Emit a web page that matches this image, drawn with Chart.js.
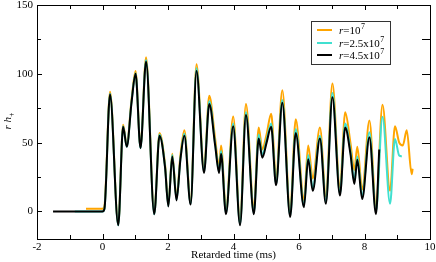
<!DOCTYPE html>
<html><head><meta charset="utf-8">
<script src="https://cdn.jsdelivr.net/npm/chart.js@4/dist/chart.umd.min.js"></script>
<style>html,body{margin:0;padding:0;background:#fff}#wrap{width:436px;height:262px}</style>
</head><body><div id="wrap"><canvas id="c" width="436" height="262"></canvas></div>
<script>
// ---- data (retarded time in ms, r*h_plus) ----
const blackT = [-1.51, 0, 0.06, 0.23, 0.48, 0.63, 0.74, 0.89, 1.01, 1.16, 1.33, 1.58, 1.74, 1.91, 2.01, 2.13, 2.26, 2.38, 2.50, 2.69, 2.87, 3.10, 3.26, 3.44, 3.56, 3.62, 3.77, 3.99, 4.20, 4.38, 4.62, 4.77, 4.88, 5.01, 5.15, 5.30, 5.49, 5.73, 5.90, 6.15, 6.28, 6.42, 6.64, 6.82, 7.02, 7.25, 7.41, 7.57, 7.69, 7.78, 7.93, 8.15, 8.35, 8.45];
const blackY = [0, 0, 2, 85, -10, 61.6, 47, 80, 100, 46, 109, -2, 55, 32, 3.6, 40, 8, 38, 55, 5, 102, 28, 78, 48, 28, 42, -2, 62, -10, 70, -2, 53, 39, 50, 61.6, 19, 79, -4, 57, 3, 38, 15, 53, 5.6, 83, 11.6, 61, 42, 20, 37.5, 9, 54, -2, 45];

const cyanT = [-0.845, 0, 0.06, 0.23, 0.48, 0.63, 0.74, 0.89, 1.01, 1.16, 1.33, 1.58, 1.74, 1.91, 2.01, 2.13, 2.26, 2.38, 2.50, 2.69, 2.87, 3.10, 3.26, 3.44, 3.56, 3.62, 3.77, 3.99, 4.20, 4.38, 4.62, 4.77, 4.88, 5.01, 5.15, 5.30, 5.49, 5.73, 5.90, 6.15, 6.28, 6.42, 6.64, 6.82, 7.02, 7.25, 7.41, 7.57, 7.69, 7.78, 7.93, 8.15, 8.35, 8.55, 8.78, 8.93, 9.06, 9.14];
const cyanY = [0, 0, 2, 85.5, -10, 62, 47, 80.5, 100.5, 46, 110, -2, 56, 32.5, 4, 41, 8.5, 38.5, 56.5, 5.5, 104, 29, 80, 49, 29, 44, -1, 64, -9, 72, -1, 56, 41, 52, 64, 20, 81, -3, 60, 4, 41, 17, 55, 7, 86, 13, 64, 44, 22, 40, 11, 57.5, 0, 68.8, 5.6, 52.7, 40.6, 40];

const orangeT = [-0.504, 0, 0.06, 0.23, 0.48, 0.63, 0.74, 0.89, 1.01, 1.16, 1.33, 1.58, 1.74, 1.91, 2.01, 2.13, 2.26, 2.38, 2.50, 2.69, 2.87, 3.10, 3.26, 3.44, 3.56, 3.62, 3.77, 3.99, 4.20, 4.38, 4.62, 4.77, 4.88, 5.01, 5.15, 5.30, 5.49, 5.73, 5.90, 6.15, 6.28, 6.42, 6.64, 6.82, 7.02, 7.25, 7.41, 7.57, 7.69, 7.78, 7.93, 8.15, 8.35, 8.55, 8.78, 8.93, 9.06, 9.17, 9.29, 9.44, 9.47];
const orangeY = [2, 2, 4, 87, -9, 63, 48, 82, 102, 47, 112, -1, 57, 34, 5, 42, 10, 41, 59, 7, 107, 31, 84, 53, 32, 48, 1, 69, -7, 78, 2, 61, 45, 56, 71, 24, 88, 0, 67, 8, 48, 24, 61, 11, 93, 17, 72, 50, 30, 47, 16, 66, 4, 77.5, 15, 62, 50, 48, 59, 27, 31];

const seriesNames = ['r=10^7', 'r=2.5x10^7', 'r=4.5x10^7'];
const seriesMantissa = ['10', '2.5x10', '4.5x10'];
const seriesColors = ['#FFA500', '#40E0D0', '#000000'];

const xMajorTicks = [-2, 0, 2, 4, 6, 8, 10];
const xMinorTicks = [-1, 1, 3, 5, 7, 9];
const yMajorTicks = [0, 50, 100, 150];
const yMinorTicks = [25, 75, 125];

const SERIF = '"Liberation Serif", "Times New Roman", serif';

function pts(t, y) { return t.map((v, i) => ({ x: v, y: y[i] })); }

const framePlugin = {
  id: 'frame',
  afterDraw(chart) {
    const ctx = chart.ctx, a = chart.chartArea;
    const xs = chart.scales.x, ys = chart.scales.y;
    ctx.save();
    ctx.strokeStyle = '#000';
    ctx.lineWidth = 1;
    ctx.strokeRect(Math.round(a.left) + 0.5, Math.round(a.top) + 0.5, Math.round(a.right - a.left), Math.round(a.bottom - a.top));
    ctx.beginPath();
    const tick = (x1, y1, x2, y2) => { ctx.moveTo(x1, y1); ctx.lineTo(x2, y2); };
    xMajorTicks.concat(xMinorTicks).forEach(v => {
      const major = xMajorTicks.includes(v);
      const px = Math.round(xs.getPixelForValue(v)) + 0.5;
      tick(px, a.bottom, px, a.bottom - (major ? 5 : 4));
      tick(px, a.top, px, a.top + (major ? 5 : 4));
    });
    yMajorTicks.concat(yMinorTicks).forEach(v => {
      const major = yMajorTicks.includes(v);
      const py = Math.round(ys.getPixelForValue(v)) + 0.5;
      tick(a.left, py, a.left + (major ? 5 : 4), py);
      tick(a.right, py, a.right - (major ? 8 : 8), py);
    });
    ctx.stroke();

    // y-axis title: r h_+
    ctx.save();
    ctx.translate(11, 121);
    ctx.rotate(-Math.PI / 2);
    ctx.fillStyle = '#000';
    ctx.textBaseline = 'alphabetic';
    const fI = 'italic 11px ' + SERIF, fS = '8px ' + SERIF;
    ctx.font = fI; const wr = ctx.measureText('r ').width, wh = ctx.measureText('h').width;
    ctx.font = fS; const wp = ctx.measureText('+').width;
    let x0 = -(wr + wh + wp) / 2;
    ctx.font = fI; ctx.fillText('r ', x0, 0); ctx.fillText('h', x0 + wr, 0);
    ctx.font = fS; ctx.fillText('+', x0 + wr + wh, 3);
    ctx.restore();

    // legend
    const L = 311.5, T = 21.5, R = 390.5, B = 64.5;
    ctx.fillStyle = '#fff';
    ctx.fillRect(L, T, R - L, B - T);
    ctx.strokeStyle = '#333';
    ctx.strokeRect(L, T, R - L, B - T);
    const rows = [30, 43, 55];
    chart.data.datasets.slice().sort((p, q) => q.order - p.order).forEach((ds, i) => {
      const y = rows[i];
      ctx.strokeStyle = ds.borderColor;
      ctx.lineWidth = 2;
      ctx.beginPath(); ctx.moveTo(317, y); ctx.lineTo(332, y); ctx.stroke();
      ctx.fillStyle = '#000';
      ctx.textBaseline = 'middle';
      let x = 339;
      ctx.font = 'italic 11px ' + SERIF; ctx.fillText('r', x, y + 1); x += ctx.measureText('r').width;
      ctx.font = '11px ' + SERIF; const txt = '=' + seriesMantissa[i];
      ctx.fillText(txt, x, y + 1); x += ctx.measureText(txt).width;
      ctx.font = '8px ' + SERIF; ctx.fillText('7', x + 0.5, y - 3);
    });
    ctx.restore();
  }
};

const serifTick = { family: SERIF, size: 11 };

new Chart(document.getElementById('c'), {
  type: 'line',
  data: {
    datasets: [
      { label: seriesNames[0], data: pts(orangeT, orangeY), borderColor: seriesColors[0], order: 3 },
      { label: seriesNames[1], data: pts(cyanT, cyanY), borderColor: seriesColors[1], order: 2 },
      { label: seriesNames[2], data: pts(blackT, blackY), borderColor: seriesColors[2], order: 1 }
    ]
  },
  options: {
    responsive: false,
    animation: false,
    devicePixelRatio: 1,
    layout: { padding: { top: 5, right: 6, left: 0, bottom: 0 } },
    elements: {
      point: { radius: 0 },
      line: { borderWidth: 2, cubicInterpolationMode: 'monotone', fill: false }
    },
    plugins: { legend: { display: false }, tooltip: { enabled: false } },
    scales: {
      x: {
        type: 'linear', min: -2, max: 10,
        afterBuildTicks: s => { s.ticks = xMajorTicks.map(v => ({ value: v })); },
        afterFit: s => { s.height = 23; s.paddingLeft = 0; s.paddingRight = 0; },
        grid: { display: false, drawTicks: false },
        border: { display: false },
        ticks: { font: serifTick, color: '#000', padding: 2, maxRotation: 0, autoSkip: false },
        title: { display: true, text: 'Retarded time (ms)', color: '#000', font: { family: SERIF, size: 11 }, padding: 0 }
      },
      y: {
        type: 'linear', min: -20, max: 150,
        afterBuildTicks: s => { s.ticks = yMajorTicks.map(v => ({ value: v })); },
        afterFit: s => { s.width = 37; s.paddingTop = 0; s.paddingBottom = 0; },
        grid: { display: false, drawTicks: false },
        border: { display: false },
        ticks: { font: serifTick, color: '#000', padding: 4, autoSkip: false }
      }
    }
  },
  plugins: [framePlugin]
});
</script></body></html>
